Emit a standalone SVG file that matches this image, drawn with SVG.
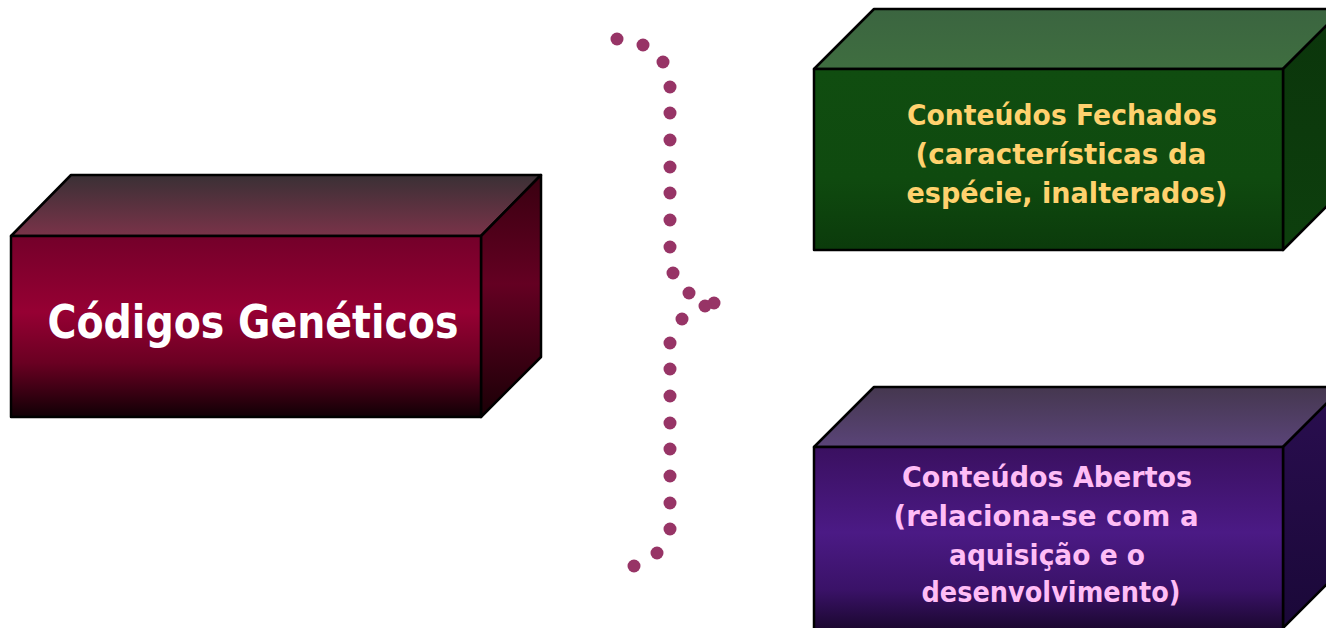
<svg xmlns="http://www.w3.org/2000/svg" width="1326" height="628" viewBox="0 0 1326 628">
<defs>
<linearGradient id="redFront" x1="0" y1="0" x2="0" y2="1"><stop offset="0" stop-color="#74002a"/><stop offset="0.42" stop-color="#960033"/><stop offset="0.7" stop-color="#6a0022"/><stop offset="1" stop-color="#100005"/></linearGradient>
<linearGradient id="redTop" x1="0" y1="0" x2="0" y2="1"><stop offset="0" stop-color="#3a3035"/><stop offset="1" stop-color="#7a3349"/></linearGradient>
<linearGradient id="redSide" x1="0" y1="0" x2="0" y2="1"><stop offset="0" stop-color="#380010"/><stop offset="0.45" stop-color="#640022"/><stop offset="1" stop-color="#1a0006"/></linearGradient>
<linearGradient id="greenFront" x1="0" y1="0" x2="0" y2="1"><stop offset="0" stop-color="#104d10"/><stop offset="0.6" stop-color="#0f4a0f"/><stop offset="1" stop-color="#0b3b0b"/></linearGradient>
<linearGradient id="greenTop" x1="0" y1="0" x2="0" y2="1"><stop offset="0" stop-color="#3b6540"/><stop offset="1" stop-color="#3f6e40"/></linearGradient>
<linearGradient id="greenSide" x1="0" y1="0" x2="0" y2="1"><stop offset="0" stop-color="#0b350b"/><stop offset="1" stop-color="#0d3f0d"/></linearGradient>
<linearGradient id="purpleFront" x1="0" y1="0" x2="0" y2="1"><stop offset="0" stop-color="#3a1060"/><stop offset="0.45" stop-color="#4b1a85"/><stop offset="0.75" stop-color="#3a1268"/><stop offset="1" stop-color="#150525"/></linearGradient>
<linearGradient id="purpleTop" x1="0" y1="0" x2="0" y2="1"><stop offset="0" stop-color="#45374f"/><stop offset="1" stop-color="#5a4478"/></linearGradient>
<linearGradient id="purpleSide" x1="0" y1="0" x2="0" y2="1"><stop offset="0" stop-color="#2a0e50"/><stop offset="1" stop-color="#1a0838"/></linearGradient>
</defs>
<style>
.edge{stroke:#000;stroke-width:2.5;stroke-linejoin:round}
.lbl{font-family:"DejaVu Sans","Liberation Sans",sans-serif;font-weight:bold;text-anchor:middle}
.dot{fill:#973466}
</style>
<g id="codigos-geneticos">
<polygon class="edge" points="11,236 71,175 541,175 481,236" fill="url(#redTop)"/>
<polygon class="edge" points="481,236 541,175 541,357 481,417" fill="url(#redSide)"/>
<rect class="edge" x="11" y="236" width="470" height="181" fill="url(#redFront)"/>
<text class="lbl" x="253" y="338" font-size="47" fill="#ffffff" textLength="411" lengthAdjust="spacingAndGlyphs">Códigos Genéticos</text>
</g>
<g id="conteudos-fechados">
<polygon class="edge" points="814,69 874,9 1343,9 1283,69" fill="url(#greenTop)"/>
<polygon class="edge" points="1283,69 1343,9 1343,190 1283,250" fill="url(#greenSide)"/>
<rect class="edge" x="814" y="69" width="469" height="181" fill="url(#greenFront)"/>
<text class="lbl" font-size="28.5" fill="#ffd26e">
<tspan x="1067" y="125" textLength="310" lengthAdjust="spacingAndGlyphs">Conteúdos Fechados</tspan>
<tspan x="1066" y="164" textLength="291" lengthAdjust="spacingAndGlyphs">(características da</tspan>
<tspan x="1067" y="203" textLength="321" lengthAdjust="spacingAndGlyphs">espécie, inalterados)</tspan>
</text>
</g>
<g id="conteudos-abertos">
<polygon class="edge" points="814,447 874,387 1343,387 1283,447" fill="url(#purpleTop)"/>
<polygon class="edge" points="1283,447 1343,387 1343,568 1283,628" fill="url(#purpleSide)"/>
<rect class="edge" x="814" y="447" width="469" height="190" fill="url(#purpleFront)"/>
<text class="lbl" font-size="28.5" fill="#ffbdf6">
<tspan x="1052" y="487" textLength="290" lengthAdjust="spacingAndGlyphs">Conteúdos Abertos</tspan>
<tspan x="1051" y="526" textLength="305" lengthAdjust="spacingAndGlyphs">(relaciona-se com a</tspan>
<tspan x="1052" y="565" textLength="196" lengthAdjust="spacingAndGlyphs">aquisição e o</tspan>
<tspan x="1051" y="602" textLength="259" lengthAdjust="spacingAndGlyphs">desenvolvimento)</tspan>
</text>
</g>
<g id="connectors">
<circle class="dot" cx="617" cy="39" r="6.5"/>
<circle class="dot" cx="643" cy="45" r="6.5"/>
<circle class="dot" cx="663" cy="62" r="6.5"/>
<circle class="dot" cx="670" cy="87" r="6.5"/>
<circle class="dot" cx="670" cy="113" r="6.5"/>
<circle class="dot" cx="670" cy="140" r="6.5"/>
<circle class="dot" cx="670" cy="167" r="6.5"/>
<circle class="dot" cx="670" cy="193" r="6.5"/>
<circle class="dot" cx="670" cy="220" r="6.5"/>
<circle class="dot" cx="670" cy="247" r="6.5"/>
<circle class="dot" cx="673" cy="273" r="6.5"/>
<circle class="dot" cx="689" cy="293" r="6.5"/>
<circle class="dot" cx="714" cy="303" r="6.5"/>
<circle class="dot" cx="705" cy="306" r="6.5"/>
<circle class="dot" cx="682" cy="319" r="6.5"/>
<circle class="dot" cx="670" cy="343" r="6.5"/>
<circle class="dot" cx="670" cy="369" r="6.5"/>
<circle class="dot" cx="670" cy="396" r="6.5"/>
<circle class="dot" cx="670" cy="423" r="6.5"/>
<circle class="dot" cx="670" cy="449" r="6.5"/>
<circle class="dot" cx="670" cy="476" r="6.5"/>
<circle class="dot" cx="670" cy="503" r="6.5"/>
<circle class="dot" cx="670" cy="529" r="6.5"/>
<circle class="dot" cx="657" cy="553" r="6.5"/>
<circle class="dot" cx="634" cy="566" r="6.5"/>
</g>
</svg>
